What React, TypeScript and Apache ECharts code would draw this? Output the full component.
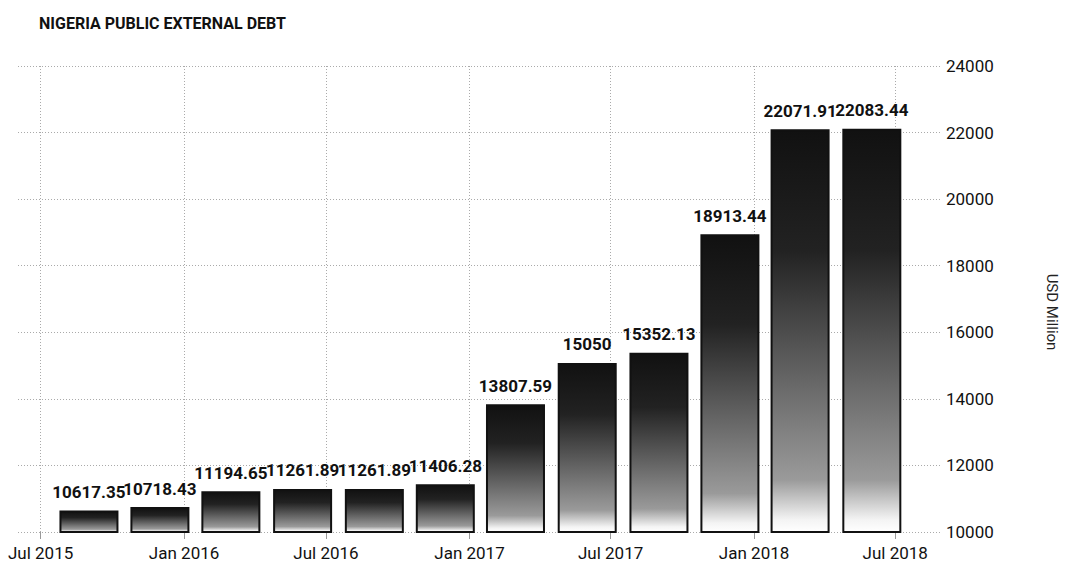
import React, { useEffect, useRef } from "react";
import * as echarts from "echarts";

const title = "NIGERIA PUBLIC EXTERNAL DEBT";
const yAxisName = "USD Million";
const dates = [
  "2015-09-01", "2015-12-01", "2016-03-01", "2016-06-01",
  "2016-09-01", "2016-12-01", "2017-03-01", "2017-06-01",
  "2017-09-01", "2017-12-01", "2018-03-01", "2018-06-01",
];
const values = [
  10617.35, 10718.43, 11194.65, 11261.89, 11261.89, 11406.28,
  13807.59, 15050, 15352.13, 18913.44, 22071.91, 22083.44,
];
const monthNames = ["Jan", "Feb", "Mar", "Apr", "May", "Jun", "Jul", "Aug", "Sep", "Oct", "Nov", "Dec"];
const xMin = "2015-06-02";
const xMax = "2018-08-30";
const yMin = 10000;
const yMax = 24000;
const yStep = 2000;

const FONT = "Roboto, 'Liberation Sans', sans-serif";
const BAR_WIDTH = 57;

export default function App() {
  const ref = useRef<HTMLDivElement>(null);
  useEffect(() => {
    if (!ref.current) return;
    const chart = echarts.init(ref.current, null, { renderer: "svg" });
    const makeGradient = () =>
      new echarts.graphic.LinearGradient(0, 0, 0, 1, [
        { offset: 0, color: "#111111" },
        { offset: 0.3, color: "#222222" },
        { offset: 0.87, color: "#9a9a9a" },
        { offset: 0.97, color: "#f4f4f4" },
        { offset: 1, color: "#ffffff" },
      ]);
    chart.setOption({
      animation: false,
      backgroundColor: "#ffffff",
      title: {
        text: title,
        left: 34,
        top: 10,
        textStyle: { fontFamily: FONT, fontSize: 16, fontWeight: "bold", color: "#111" },
      },
      grid: { left: 18, right: 123, top: 66, bottom: 35, outerBoundsMode: "none" },
      xAxis: {
        type: "time",
        min: xMin,
        max: xMax,
        minInterval: 180 * 86400000,
        maxInterval: 184 * 86400000,
        axisLine: { show: false },
        axisTick: { show: true, length: 7, lineStyle: { color: "#999" } },
        axisLabel: {
          showMinLabel: false,
          showMaxLabel: false,
          margin: 12,
          fontFamily: FONT,
          fontSize: 17,
          color: "#111",
          formatter: (v: number) => {
            const d = new Date(v);
            return `${monthNames[d.getMonth()]} ${d.getFullYear()}`;
          },
        },
        splitLine: {
          show: true,
          showMinLine: false,
          showMaxLine: false,
          lineStyle: { color: "#aaa", type: [1, 2], width: 1 },
        },
      },
      yAxis: {
        type: "value",
        position: "right",
        min: yMin,
        max: yMax,
        interval: yStep,
        name: yAxisName,
        nameLocation: "middle",
        nameRotate: -90,
        nameGap: 102,
        nameTextStyle: {
          fontFamily: FONT,
          fontSize: 15,
          color: "#222",
          padding: [0, 0, 0, 26],
        },
        axisLine: { show: false },
        axisTick: { show: false },
        axisLabel: {
          margin: 4,
          fontFamily: FONT,
          fontSize: 17,
          color: "#111",
          formatter: (v: number) => String(v),
        },
        splitLine: { show: true, lineStyle: { color: "#aaa", type: [1, 2], width: 1 } },
      },
      series: [
        {
          type: "custom",
          encode: { x: 0, y: 1 },
          data: dates.map((d, i) => [d, values[i]]),
          renderItem: (params: any, api: any) => {
            const x = api.value(0);
            const v = api.value(1);
            const top = api.coord([x, v]);
            const base = api.coord([x, yMin]);
            return {
              type: "group",
              children: [
                {
                  type: "rect",
                  shape: {
                    x: top[0] - BAR_WIDTH / 2,
                    y: top[1],
                    width: BAR_WIDTH,
                    height: base[1] - top[1],
                  },
                  style: { fill: makeGradient(), stroke: "#111", lineWidth: 2 },
                },
                {
                  type: "text",
                  x: top[0],
                  y: top[1] - 11,
                  style: {
                    text: String(v),
                    fill: "#111",
                    font: `bold 17px ${FONT}`,
                    align: "center",
                    verticalAlign: "bottom",
                  },
                },
              ],
            };
          },
        },
      ],
    });
    return () => chart.dispose();
  }, []);
  return (
    <div
      ref={ref}
      style={{ position: "fixed", left: 0, top: 0, width: 1065, height: 567 }}
    />
  );
}
